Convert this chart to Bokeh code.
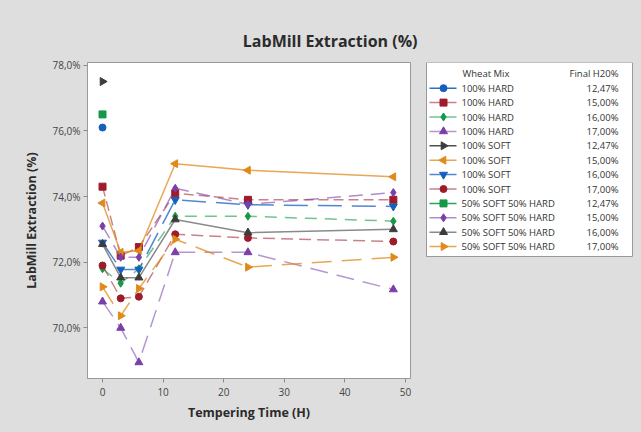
import numpy as np
from bokeh.plotting import figure
from bokeh.layouts import row
from bokeh.models import Range1d, FixedTicker, Title
from bokeh.core.properties import value
from bokeh.embed import file_html
from bokeh.resources import INLINE

nan = np.nan

# ---------------- data ----------------
times = [0, 3, 6, 12, 24, 48]
x_ticks = [0, 10, 20, 30, 40, 50]
y_ticks = [70, 72, 74, 76, 78]
y_tick_labels = ["70,0%", "72,0%", "74,0%", "76,0%", "78,0%"]

wheat_mix = ["100% HARD"] * 4 + ["100% SOFT"] * 4 + ["50% SOFT 50% HARD"] * 4
final_h2o = ["12,47%", "15,00%", "16,00%", "17,00%"] * 3

hard_1247 = [76.1, nan, nan, nan, nan, nan]
hard_1500 = [74.3, 72.2, 72.46, 74.1, 73.9, 73.9]
hard_1600 = [71.8, 71.36, 71.8, 73.4, 73.4, 73.25]
hard_1700 = [70.8, 70.0, 68.95, 72.3, 72.3, 71.17]
soft_1247 = [77.5, nan, nan, nan, nan, nan]
soft_1500 = [73.8, 72.3, 72.35, 75.0, 74.8, 74.6]
soft_1600 = [72.6, 71.78, 71.78, 73.9, 73.75, 73.7]
soft_1700 = [71.9, 70.9, 70.95, 72.85, 72.74, 72.63]
mix_1247 = [76.5, nan, nan, nan, nan, nan]
mix_1500 = [73.1, 72.15, 72.15, 74.25, 73.76, 74.12]
mix_1600 = [72.55, 71.53, 71.53, 73.3, 72.9, 73.0]
mix_1700 = [71.25, 70.37, 71.2, 72.7, 71.85, 72.15]

series = [hard_1247, hard_1500, hard_1600, hard_1700,
          soft_1247, soft_1500, soft_1600, soft_1700,
          mix_1247, mix_1500, mix_1600, mix_1700]

# ---------------- styles ----------------
BLUE, RED, GREEN, PURPLE, GRAY, ORANGE = "#1560bd", "#9e1b2a", "#159947", "#7a3fa8", "#3c3c3c", "#e08a1a"
colors = [BLUE, RED, GREEN, PURPLE, GRAY, ORANGE, BLUE, RED, GREEN, PURPLE, GRAY, ORANGE]
markers = ["circle", "square", "diamond", "triangle", "triangle", "triangle",
           "inverted_triangle", "circle", "square", "diamond", "triangle", "triangle"]
angles = [0, 0, 0, 0, -np.pi / 2, np.pi / 2, 0, 0, 0, 0, 0, -np.pi / 2]
dashes = ["solid", "10 5", "12 8", "18 9", "solid", "solid",
          "24 10", "12 6", "solid", "14 8", "solid", "20 10"]
line_alpha = [0.9, 0.55, 0.6, 0.55, 0.9, 0.75, 0.75, 0.55, 0.9, 0.6, 0.6, 0.75]
sizes = [7, 7, 8, 8, 8, 8, 8, 7, 7, 8, 8, 8]

FONT = "Open Sans"
BG = "#dedede"

p = figure(width=425, height=432, output_backend="svg", toolbar_location=None,
           x_range=Range1d(-2.48, 50.83), y_range=Range1d(68.46, 78.08),
           min_border_left=87, min_border_right=15, min_border_top=62, min_border_bottom=54)
p.title = Title(text="LabMill Extraction (%)", align="right", offset=-7,
                text_font_size="16px", text_font=FONT, text_font_style="bold",
                text_color="#2b2b2b", standoff=22)
p.background_fill_color = "white"
p.border_fill_color = BG
p.outline_line_color = "#9a9a9a"
p.grid.visible = False

p.xaxis.ticker = FixedTicker(ticks=x_ticks)
p.yaxis.ticker = FixedTicker(ticks=y_ticks)
p.yaxis.major_label_overrides = {t: l for t, l in zip(y_ticks, y_tick_labels)}
for ax in (p.xaxis, p.yaxis):
    ax.axis_line_color = "#9a9a9a"
    ax.major_tick_line_color = "#8a8a8a"
    ax.major_tick_out = 4
    ax.major_tick_in = 0
    ax.minor_tick_line_color = None
    ax.major_label_text_font = FONT
    ax.major_label_text_font_size = "10px"
    ax.major_label_text_color = "#444444"
    ax.axis_label_text_font = FONT
    ax.axis_label_text_font_size = "12.5px"
    ax.axis_label_text_font_style = "bold"
    ax.axis_label_text_color = "#2b2b2b"
p.xaxis.axis_label = "Tempering Time (H)"
p.yaxis.axis_label = "LabMill Extraction (%)"
p.xaxis.major_label_standoff = 5
p.yaxis.major_label_standoff = 3
p.xaxis.axis_label_standoff = 5
p.yaxis.axis_label_standoff = 9

for vals, c, m, a, d, la, s in zip(series, colors, markers, angles, dashes, line_alpha, sizes):
    y = np.array(vals, dtype=float)
    p.line(times, y, line_color=c, line_width=1.5, line_alpha=la, line_dash=d)
    p.scatter(times, y, marker=m, angle=a, size=s, fill_color=c, line_color=c)

# ---------------- legend panel ----------------
# its frame is aligned with the main plot frame (y 62..378 on the canvas)
lg = figure(width=216, height=432, output_backend="svg", toolbar_location=None,
            x_range=Range1d(425, 641), y_range=Range1d(378, 62),
            x_axis_location=None, y_axis_location=None, title=None,
            min_border=0, min_border_left=0, min_border_right=0,
            min_border_top=0, min_border_bottom=0)
lg.grid.visible = False
lg.outline_line_color = None
lg.background_fill_color = BG
lg.border_fill_color = BG

lg.quad(left=[426], right=[632], top=[62], bottom=[256],
        fill_color="white", line_color="#9a9a9a", line_width=1)
lg.text(x=[462], y=[72.5], text=["Wheat Mix"], text_font=value(FONT),
        text_font_size="9.5px", text_baseline="middle", text_color="#333333")
lg.text(x=[618], y=[72.5], text=["Final H20%"], text_font=value(FONT),
        text_font_size="9.5px", text_baseline="middle", text_align="right", text_color="#333333")
for i, (c, m, a, la, s) in enumerate(zip(colors, markers, angles, line_alpha, sizes)):
    yy = 87.7 + 14.4 * i
    lg.line([429, 456], [yy, yy], line_color=c, line_width=1.5, line_alpha=la)
    lg.scatter([443], [yy], marker=m, angle=a, size=s, fill_color=c, line_color=c)
lg.text(x=[461] * 12, y=[87.7 + 14.4 * i for i in range(12)], text=wheat_mix,
        text_font=value(FONT), text_font_size="9.5px", text_baseline="middle", text_color="#333333")
lg.text(x=[618] * 12, y=[87.7 + 14.4 * i for i in range(12)], text=final_h2o,
        text_font=value(FONT), text_font_size="9.5px", text_baseline="middle",
        text_align="right", text_color="#333333")

layout = row(p, lg, spacing=0, styles={"background-color": BG})
open("out.html", "w").write(file_html(layout, INLINE))
